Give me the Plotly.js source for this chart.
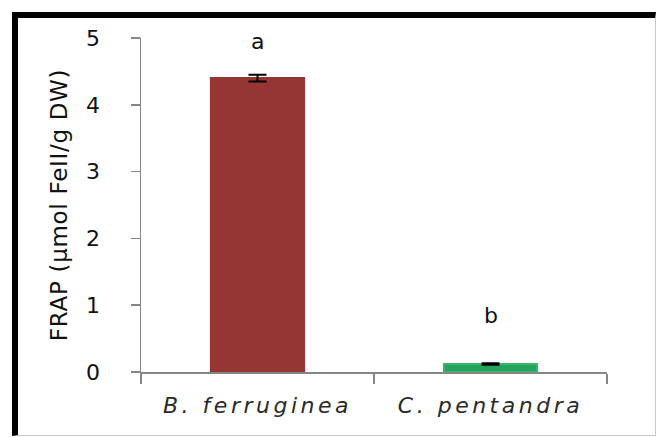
<!DOCTYPE html>
<html>
<head>
<meta charset="utf-8">
<script src="https://cdn.plot.ly/plotly-3.0.1.min.js"></script>
<style>
  html, body { margin: 0; padding: 0; background: #ffffff; }
  #wrap { position: relative; width: 658px; height: 437px; overflow: hidden; }
  #chart { position: absolute; left: 0; top: 0; width: 658px; height: 437px; }
  #frame {
    position: absolute; left: 12px; top: 12px; right: 2px; bottom: 1px;
    border-left: 6px solid #000; border-top: 6px solid #000;
    border-right: 1px solid #c8c8c8; border-bottom: 1px solid #c8c8c8;
    pointer-events: none;
  }
  /* airy category labels and axis title */
  #chart .xtick text { letter-spacing: 3.5px; }
  #chart .ytitle { letter-spacing: 0.7px; }
</style>
</head>
<body>
<div id="wrap">
  <div id="chart"></div>
  <div id="frame"></div>
</div>
<script>
// Species and their FRAP antioxidant values
const species = ["B. ferruginea", "C. pentandra"];
const frap = [4.40, 0.12];
const frapErr = [0.05, 0.01];
const barColors = ["#963634", "#22A45A"];
const edgeColors = ["#963634", "#3CB46E"];
const letters = ["a", "b"];
const letterY = [4.95, 0.85];
const yTicks = [0, 1, 2, 3, 4, 5];

const FONT = "DejaVu Sans, sans-serif";

const trace = {
  type: "bar",
  x: species,
  y: frap,
  marker: { color: barColors, line: { color: edgeColors, width: 2 } },
  error_y: { type: "data", array: frapErr, visible: true, color: "#000000", thickness: 2, width: 9 },
  hoverinfo: "skip"
};

const annotations = species.map((s, i) => ({
  x: s, y: letterY[i], xref: "x", yref: "y",
  text: letters[i], showarrow: false,
  font: { family: FONT, size: 22, color: "#111" }
}));

const layout = {
  width: 658, height: 437,
  margin: { l: 141, r: 51, t: 38, b: 65 },
  paper_bgcolor: "#ffffff", plot_bgcolor: "#ffffff",
  bargap: 0.6,
  showlegend: false,
  xaxis: {
    type: "category",
    tickson: "boundaries",
    ticks: "outside", ticklen: 10, tickcolor: "#868686", tickwidth: 1.5,
    showline: true, linecolor: "#868686", linewidth: 1.5,
    showgrid: false, zeroline: false,
    ticklabelstandoff: 13,
    tickfont: { family: FONT, size: 22, color: "#2a2a2a", style: "italic" }
  },
  yaxis: {
    range: [0, 5],
    tickvals: yTicks,
    ticks: "outside", ticklen: 9, tickcolor: "#868686", tickwidth: 1.5,
    showline: true, linecolor: "#868686", linewidth: 1.5,
    showgrid: false, zeroline: false,
    ticklabelstandoff: 26,
    tickfont: { family: FONT, size: 22, color: "#111" },
    title: { text: "FRAP (µmol FeII/g DW)", standoff: 12,
             font: { family: FONT, size: 23, color: "#111" } }
  },
  annotations: annotations
};

Plotly.newPlot("chart", [trace], layout, { displayModeBar: false, staticPlot: true });
</script>
</body>
</html>
